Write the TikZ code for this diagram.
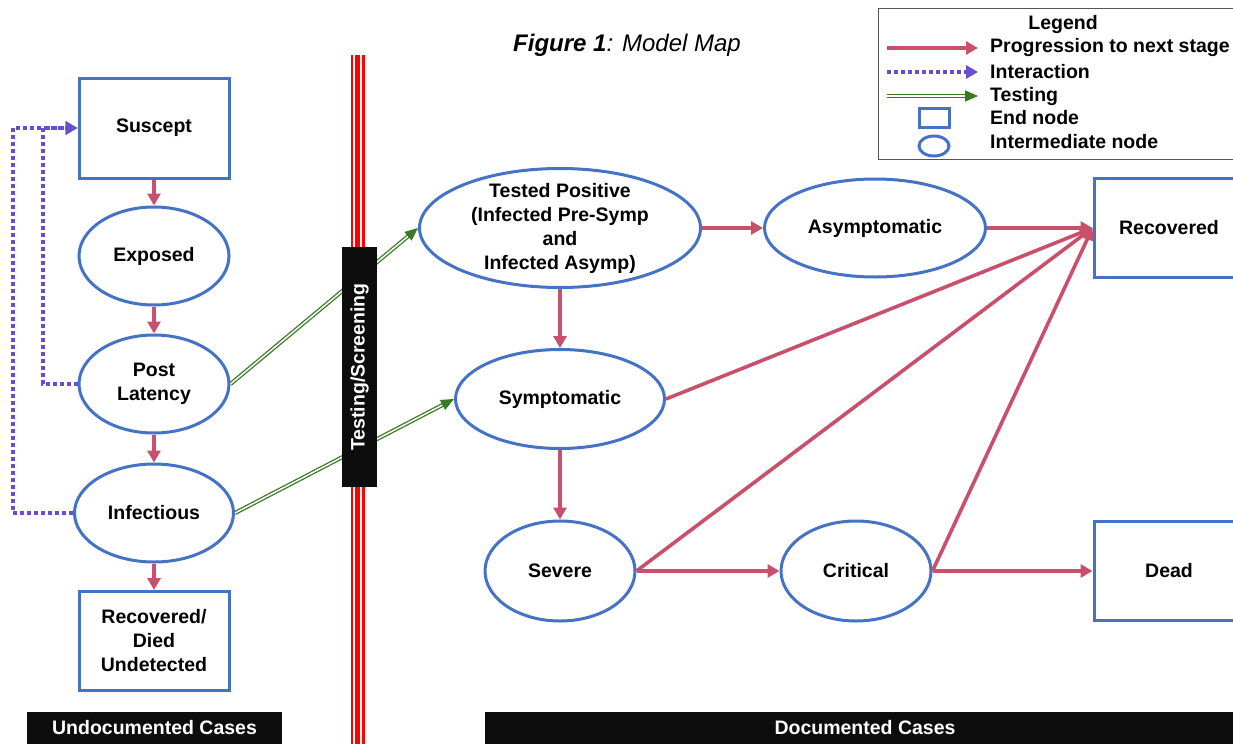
\documentclass[tikz,border=0pt]{standalone}
\usepackage{fontspec}
\setmainfont{Liberation Sans}
\usetikzlibrary{shapes.geometric,arrows.meta}
\definecolor{nodeblue}{RGB}{68,114,196}
\definecolor{progred}{RGB}{200,80,106}
\definecolor{interblue}{RGB}{102,78,204}
\definecolor{testgreen}{RGB}{58,122,34}
\definecolor{barblack}{RGB}{13,13,13}
\definecolor{legendgray}{RGB}{85,85,85}
\begin{document}
\begin{tikzpicture}[x=1pt,y=-1pt,
  every node/.style={font=\fontsize{19.5}{24}\selectfont\bfseries, align=center},
  endbox/.style={draw=nodeblue, line width=3pt, rectangle, inner sep=0pt, fill=white},
  ell/.style={draw=nodeblue, line width=3pt, ellipse, inner sep=0pt, fill=white},
  prog/.style={draw=progred, line width=3.6pt, -{Triangle[length=12pt,width=13pt]}},
  inter/.style={draw=interblue, line width=4pt, dash pattern=on 4pt off 3pt, -{Triangle[length=12pt,width=13pt]}},
  testarr/.style={draw=testgreen, line width=1.3pt, double=white, double distance=1.5pt, -{Triangle[length=13pt,width=11pt]}},
  bar/.style={fill=barblack, inner sep=0pt, text=white},
  legtext/.style={anchor=west, inner sep=0pt}
]
\useasboundingbox (0,0) rectangle (1233,744);
\fill[white] (0,0) rectangle (1233,744);
\clip (0,0) rectangle (1233,744);

% left column
\node[endbox, minimum width=150pt, minimum height=100pt] (sus) at (154,128) {Suscept};
\node[ell, minimum width=150pt, minimum height=98pt] (exp) at (154,256) {Exposed};
\node[ell, minimum width=150pt, minimum height=98pt] (pl) at (154,384) {Post\\Latency};
\node[ell, minimum width=159pt, minimum height=98pt] (inf) at (154,513) {Infectious};
\node[endbox, minimum width=150pt, minimum height=99pt] (rdu) at (154,641) {Recovered/\\Died\\Undetected};

% right part
\node[ell, minimum width=281pt, minimum height=119pt, inner sep=-20pt] (tp) at (560,228) {Tested Positive\\(Infected Pre-Symp\\and\\Infected Asymp)};
\node[ell, minimum width=221pt, minimum height=98pt] (asym) at (875,228) {Asymptomatic};
\node[endbox, minimum width=150pt, minimum height=99pt] (rec) at (1169,228) {Recovered};
\node[ell, minimum width=209pt, minimum height=99pt] (sym) at (560,399) {Symptomatic};
\node[ell, minimum width=150pt, minimum height=100pt] (sev) at (560,571) {Severe};
\node[ell, minimum width=150pt, minimum height=100pt] (crit) at (856,571) {Critical};
\node[endbox, minimum width=150pt, minimum height=99pt] (dead) at (1169,571) {Dead};

% progression arrows
\draw[prog] (sus.south) -- (exp.north);
\draw[prog] (exp.south) -- (pl.north);
\draw[prog] (pl.south) -- (inf.north);
\draw[prog] (inf.south) -- (rdu.north);
\draw[prog] (tp.east) -- (asym.west);
\draw[prog] (tp.south) -- (sym.north);
\draw[prog] (sym.south) -- (sev.north);
\draw[prog] (sev.east) -- (crit.west);
\draw[prog] (crit.east) -- (dead.west);
\draw[prog] (asym.east) -- (rec.west);
\draw[prog] (sym.east) -- (rec.west);
\draw[prog] (sev.east) -- (rec.west);
\draw[prog] (crit.east) -- (rec.west);

% interaction arrows
\draw[inter] (pl.west) -- ++(-35,0) |- (sus.west);
\draw[inter] (inf.west) -- ++(-60,0) |- (sus.west);

% testing arrows
\draw[testarr] (pl.east) -- (tp.west);
\draw[testarr] (inf.east) -- (sym.west);

% red triple line
\fill[red] (350.5,55) rectangle (364.5,744);
\draw[white, line width=1.8pt] (354.2,55) -- (354.2,744);
\draw[white, line width=1.8pt] (360.7,55) -- (360.7,744);

% testing / screening box
\node[bar, rotate=90, minimum width=240pt, minimum height=35pt] (ts) at (359.5,367) {Testing/Screening};

% bottom bars
\node[bar, minimum width=255pt, minimum height=32pt] (undoc) at (154.5,728) {Undocumented Cases};
\node[bar, minimum width=760pt, minimum height=32pt] (doc) at (865,728) {Documented Cases};

% title
\node[font=\fontsize{24}{28}\selectfont\mdseries] (title) at (627,45) {\textbf{\textit{Figure 1}}\textit{: Model Map}};

% legend
\node[draw=legendgray, line width=1.2pt, minimum width=362pt, minimum height=151pt, anchor=north west, inner sep=0pt] (legend) at (878,8) {};
\node (legt) at (1063,25) {Legend};
\coordinate (l1a) at (887,48); \coordinate (l1b) at (978,48);
\coordinate (l2a) at (887,72); \coordinate (l2b) at (978,72);
\coordinate (l3a) at (887,96); \coordinate (l3b) at (978,96);
\draw[prog] (l1a) -- (l1b);
\draw[inter] (l2a) -- (l2b);
\draw[testarr] (l3a) -- (l3b);
\node[endbox, minimum width=30pt, minimum height=19pt] (lrect) at (934,118) {};
\node[ell, minimum width=30pt, minimum height=20pt] (lell) at (934,146) {};
\node[legtext] (lt1) at (990,48) {Progression to next stage};
\node[legtext] (lt2) at (990,72) {Interaction};
\node[legtext] (lt3) at (990,96) {Testing};
\node[legtext] (lt4) at (990,118) {End node};
\node[legtext] (lt5) at (990,142) {Intermediate node};
\end{tikzpicture}
\end{document}
